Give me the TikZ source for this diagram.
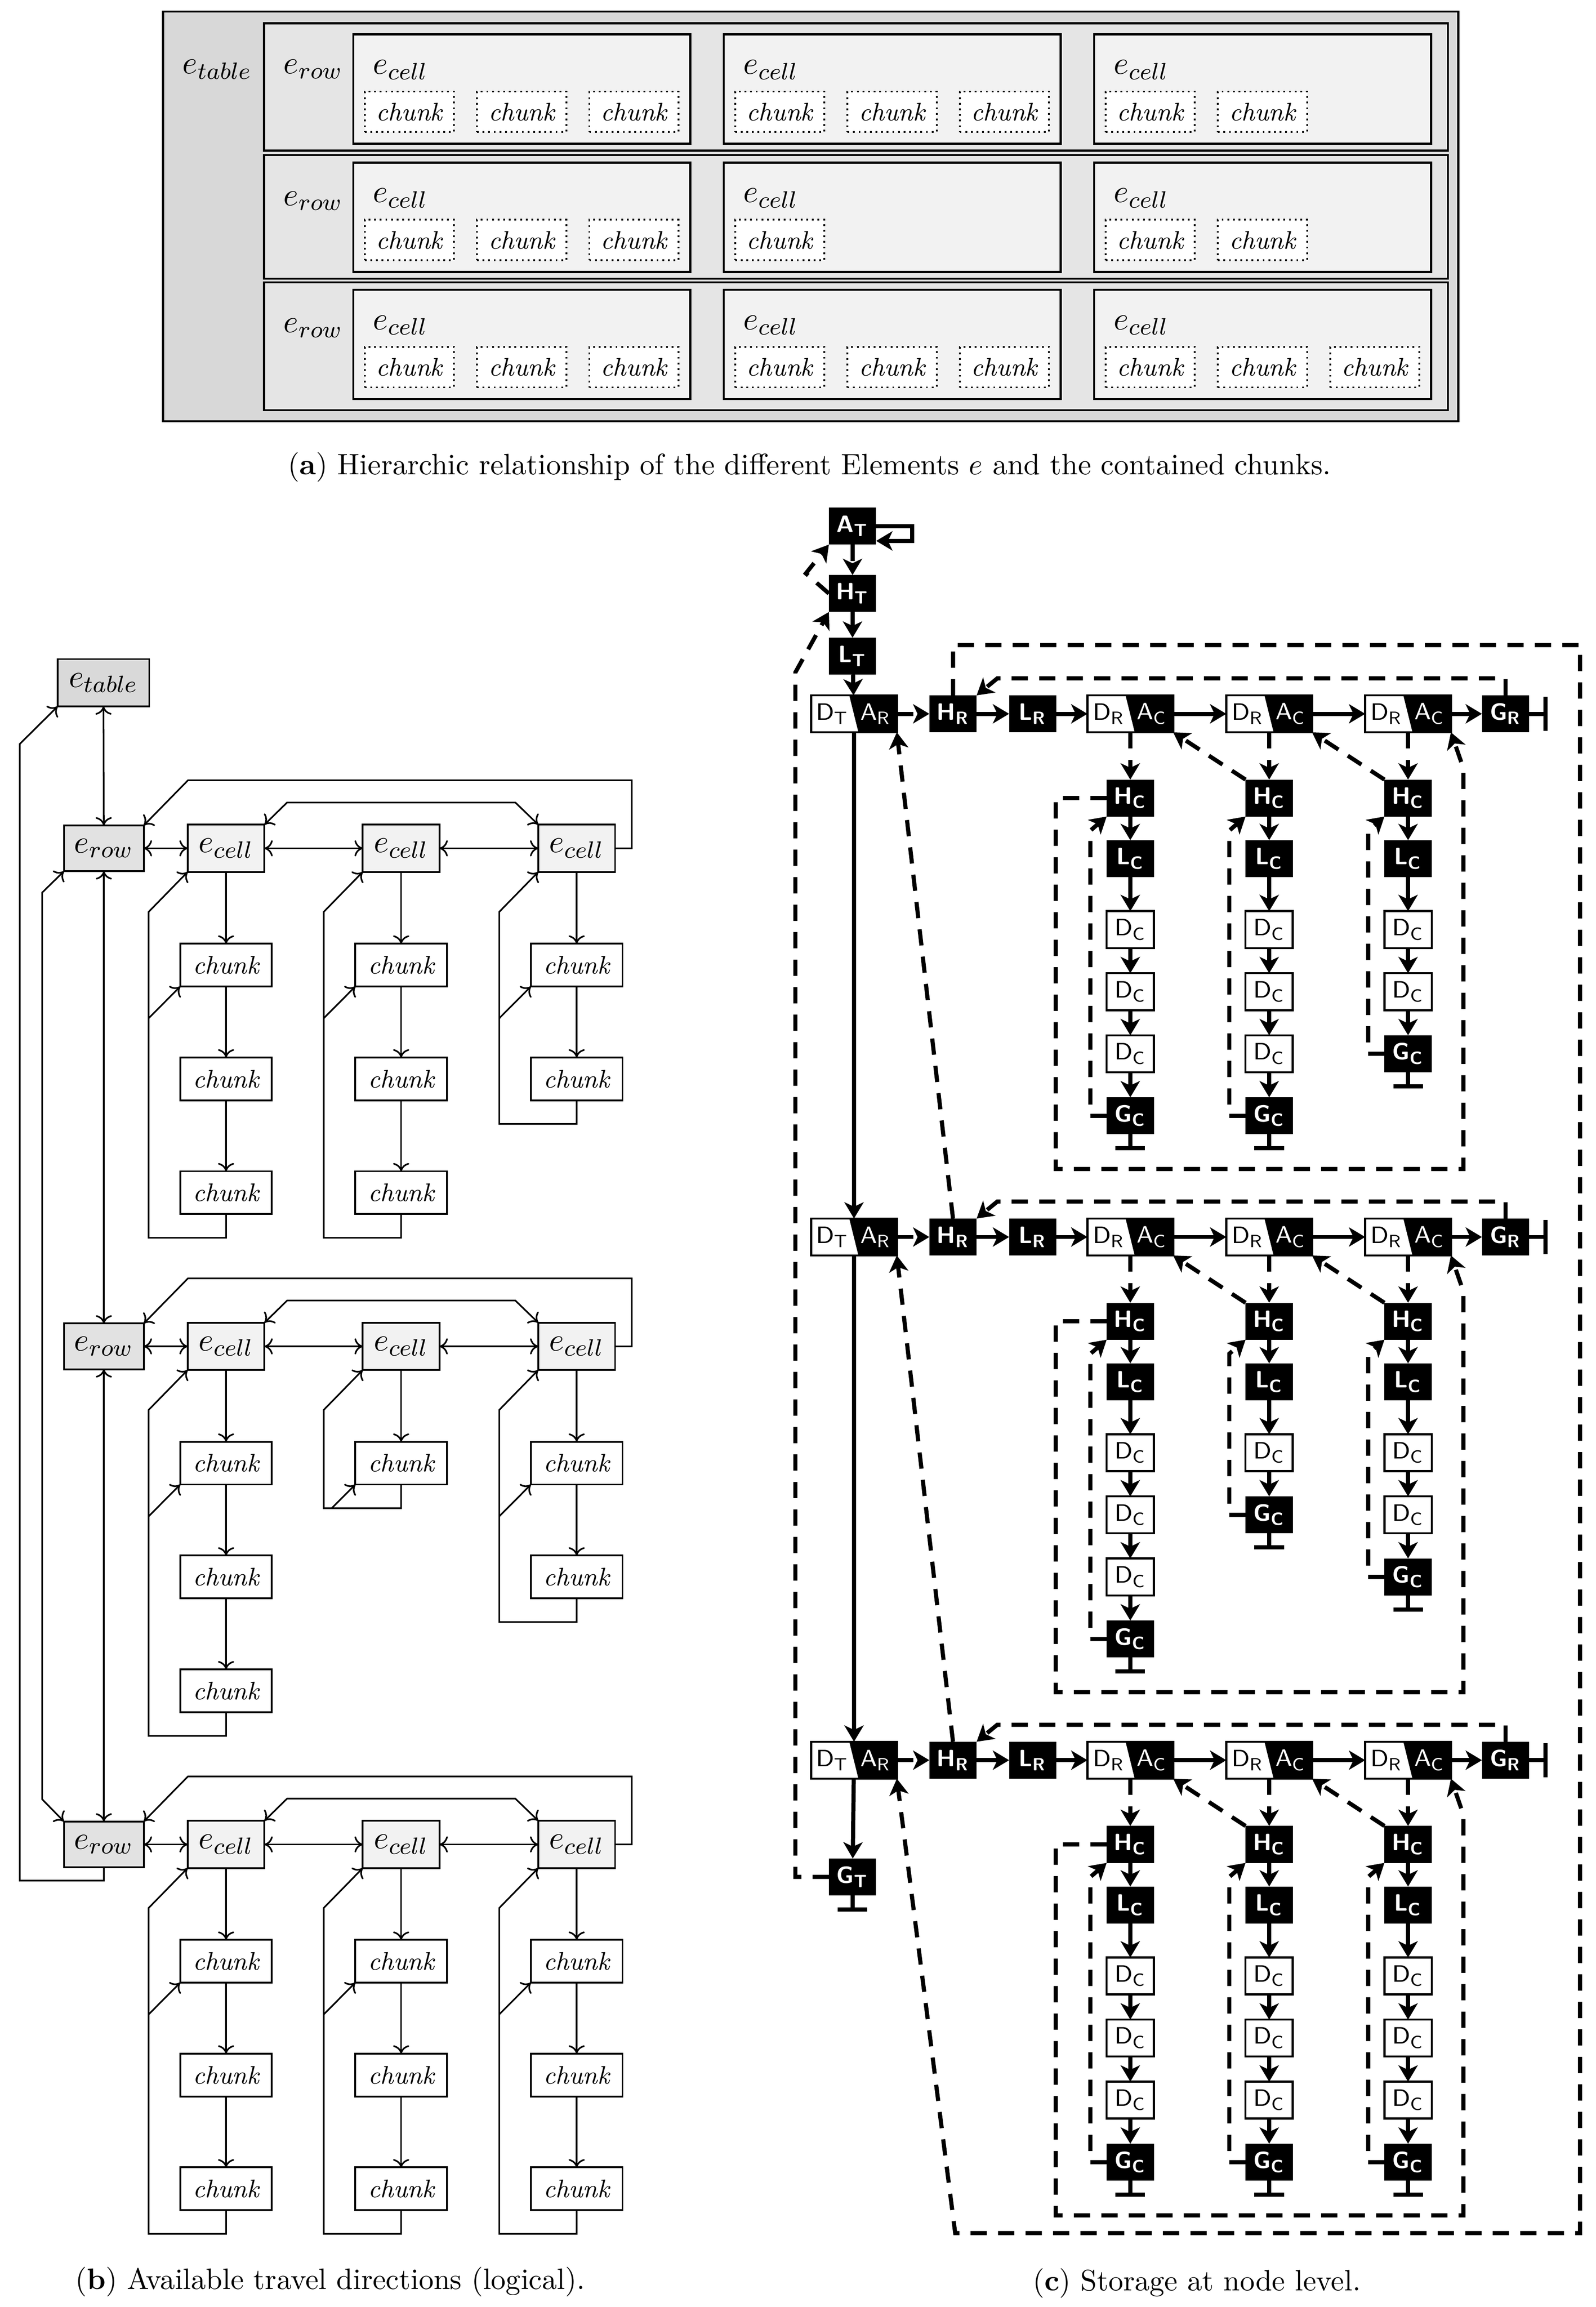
\documentclass[tikz,border=0pt]{standalone}
\usetikzlibrary{arrows.meta,calc}
\definecolor{aout}{HTML}{D8D8D8}
\definecolor{arow}{HTML}{E5E5E5}
\definecolor{acell}{HTML}{F2F2F2}
\definecolor{btab}{HTML}{D9D9D9}
\definecolor{brow}{HTML}{E2E2E2}
\newcommand\csf{\sffamily\fontsize{8}{9}\selectfont}
\newcommand\mkda[5]{%
  \node[dabox] (#1) at (#2,#3) {};
  \fill ($(#1.north)+(-1.6pt,0pt)$) -- (#1.north east) -- (#1.south east) -- ($(#1.south)+(1.5pt,0pt)$) -- cycle;
  \draw[line width=0.7pt] (#1.north west) rectangle (#1.south east);
  \node[font=\csf] (#1l) at ($(#1.center)+(-7.3pt,0pt)$) {#4};
  \node[font=\csf,text=white] (#1r) at ($(#1.center)+(7.3pt,0pt)$) {#5};}
\begin{document}
\begin{tikzpicture}[x=0.5pt,y=-0.5pt,
  every node/.style={inner sep=0pt,outer sep=0pt},
  abig/.style={font=\fontsize{10.95}{12}\selectfont},
  achunk/.style={draw,line width=0.6pt,dash pattern=on 0.6pt off 1.3pt,fill=white,minimum width=30.2pt,minimum height=13.7pt,font=\itshape\fontsize{8.6}{10}\selectfont},
  bb/.style={draw,line width=0.6pt,minimum height=15.5pt,font=\fontsize{10.95}{12}\selectfont},
  tbox/.style={bb,fill=btab,minimum width=31pt,minimum height=16pt},
  rbox/.style={bb,fill=brow,minimum width=27pt},
  cbox/.style={bb,fill=acell,minimum width=26pt,minimum height=16pt},
  chbox/.style={draw,line width=0.6pt,fill=white,minimum width=31pt,minimum height=14.5pt,font=\itshape\fontsize{8.6}{10}\selectfont},
  barr/.style={line width=0.55pt,-{Computer Modern Rightarrow[length=2.8pt,width=5.5pt]}},
  barr2/.style={line width=0.55pt,{Computer Modern Rightarrow[length=2.8pt,width=5.5pt]}-{Computer Modern Rightarrow[length=2.8pt,width=5.5pt]}},
  bn/.style={fill=black,text=white,font=\csf\bfseries,minimum width=16pt,minimum height=12.5pt},
  wn/.style={draw,line width=0.7pt,fill=white,font=\csf,minimum width=16pt,minimum height=12.5pt},
  dabox/.style={minimum width=29pt,minimum height=12.5pt},
  tline/.style={line width=1.4pt},
  tarr/.style={line width=1.4pt,-{Stealth[length=5.5pt,width=6.5pt,inset=1.5pt]}},
  tdash/.style={tarr,dash pattern=on 5.5pt off 3.8pt},
]
\useasboundingbox (0,0) rectangle (1080,1561);

% ---------------- part (a)
\draw[fill=aout,line width=0.7pt] (110.4,7.8) rectangle (987,285);
\node[abig] (atab) at (147,47) {$e_{table}$};
\foreach \ri/\yt/\yb/\ct/\na/\nb/\nc in {1/15.8/102/23.3/3/3/2,2/104.9/188.5/110/3/1/2,3/191/277.6/196/3/3/3}{
  \draw[fill=arow,line width=0.7pt] (178.7,\yt) rectangle (980,\yb);
  \node[abig] (arow\ri) at (212,{\yt+31}) {$e_{row}$};
  \foreach \jj/\nn in {0/\na,1/\nb,2/\nc}{
    \draw[fill=acell,line width=0.7pt] ({239.2+250.7*\jj},\ct) rectangle ({467.2+250.7*\jj},{\ct+74});
    \node[abig] (acell\ri-\jj) at ({271+250.7*\jj},{\ct+24}) {$e_{cell}$};
    \foreach \kk in {1,...,\nn}{
      \node[achunk] (ach\ri-\jj-\kk) at ({239.2+250.7*\jj+7.6+30.25+76*(\kk-1)},{\ct+52.4}) {chunk};
    }
  }
}
\node[font=\fontsize{10}{12}\selectfont] (capa) at (548,316) {(\textbf{a}) Hierarchic relationship of the different Elements $e$ and the contained chunks.};

% ---------------- part (b)
\node[tbox] (et) at (70,462) {$e_{table}$};
\foreach \ri/\Y/\na/\nb/\nc in {1/574/3/3/2,2/911/3/1/2,3/1248/3/3/3}{
  \node[rbox] (er\ri) at (70.3,\Y) {$e_{row}$};
  \foreach \jj/\X/\nn in {1/153/\na,2/271.5/\nb,3/390.3/\nc}{
    \node[cbox] (c\ri-\jj) at (\X,\Y) {$e_{cell}$};
    \foreach \kk in {1,...,\nn}{
      \node[chbox] (ch\ri-\jj-\kk) at (\X,{\Y+79+77*(\kk-1)}) {chunk};
      \ifnum\kk=1 \def\prev{c\ri-\jj}\else\pgfmathtruncatemacro\pk{\kk-1}\edef\prev{ch\ri-\jj-\pk}\fi
      \draw[barr] (\prev) -- (ch\ri-\jj-\kk);
    }
    \draw[barr] (ch\ri-\jj-\nn.south) -- ++(0,16) -| ({\X-52.4},{\Y+43}) -- (c\ri-\jj.south west);
    \ifnum\nn=1
      \draw[barr] ({\X-47},{\Y+109.5}) -- (ch\ri-\jj-1.south west);
    \else
      \draw[barr] ({\X-52.4},{\Y+115}) -- (ch\ri-\jj-1.south west);
    \fi
  }
  \draw[barr2] (er\ri) -- (c\ri-1);
  \draw[barr2] (c\ri-1) -- (c\ri-2);
  \draw[barr2] (c\ri-2) -- (c\ri-3);
  \draw[barr] (c\ri-3.east) -| (427.6,{\Y-46}) -- (127.2,{\Y-46}) -- (er\ri.north east);
  \draw[barr2] (c\ri-1.north east) -- (194.3,{\Y-31}) -- (348.8,{\Y-31}) -- (c\ri-3.north west);
}
\draw[barr2] (et) -- (er1);
\draw[barr2] (er1) -- (er2);
\draw[barr2] (er2) -- (er3);
\draw[barr2] (er1.south west) -- (28.5,604) -- (28.5,1217.4) -- (er3.north west);
\draw[barr] (er3.south) -- ++(0,9) -| (13.4,503.4) -- (et.south west);
\node[font=\fontsize{10}{12}\selectfont] (capb) at (223.5,1544) {(\textbf{b}) Available travel directions (logical).};

% ---------------- part (c)
\node[bn] (AT) at (577,356) {A\textsubscript{T}};
\node[bn] (HT) at (577,401.6) {H\textsubscript{T}};
\node[bn] (LT) at (577,444) {L\textsubscript{T}};
\node[bn] (GT) at (577,1270) {G\textsubscript{T}};
\coordinate (atl) at (617.3,366);
\draw[tarr] (AT.east) -| (atl) -- (AT.east |- atl);
\draw[tdash] (AT) -- (HT);
\draw[tarr] (HT) -- (LT);
\draw[tdash] (HT.west) -- (545.4,388) -- (AT.south west);
\draw[tdash] (GT.west) -- (538.3,1270) -- (538.3,455) -- (HT.south west);
\draw[tline] (GT.south) -- ++(0,9.5) coordinate (gtb);
\draw[tline] ($(gtb)+(-10,0)$) -- ($(gtb)+(10,0)$);

\foreach \ri/\Y/\na/\nb/\nc in {1/483/3/3/2,2/837/3/1/2,3/1191/3/3/3}{
  \mkda{DT\ri}{578}{\Y}{D\textsubscript{T}}{A\textsubscript{R}}
  \node[bn] (HR\ri) at (645,\Y) {H\textsubscript{R}};
  \node[bn] (LR\ri) at (699,\Y) {L\textsubscript{R}};
  \node[bn] (GR\ri) at (1019,\Y) {G\textsubscript{R}};
  \foreach \jj/\X/\nn in {1/765/\na,2/859/\nb,3/953/\nc}{
    \mkda{DA\ri-\jj}{\X}{\Y}{D\textsubscript{R}}{A\textsubscript{C}}
    \node[bn] (HC\ri-\jj) at (\X,{\Y+57}) {H\textsubscript{C}};
    \node[bn] (LC\ri-\jj) at (\X,{\Y+98}) {L\textsubscript{C}};
    \draw[tdash] (DA\ri-\jj) -- (HC\ri-\jj);
    \draw[tarr] (HC\ri-\jj) -- (LC\ri-\jj);
    \foreach \kk in {1,...,\nn}{
      \node[wn] (DC\ri-\jj-\kk) at (\X,{\Y+146+42*(\kk-1)}) {D\textsubscript{C}};
      \ifnum\kk=1 \def\prev{LC\ri-\jj}\else\pgfmathtruncatemacro\pk{\kk-1}\edef\prev{DC\ri-\jj-\pk}\fi
      \draw[tarr] (\prev) -- (DC\ri-\jj-\kk);
    }
    \node[bn] (GC\ri-\jj) at (\X,{\Y+146+42*\nn}) {G\textsubscript{C}};
    \draw[tarr] (DC\ri-\jj-\nn) -- (GC\ri-\jj);
    \draw[tline] (GC\ri-\jj.south) -- ++(0,9.5) coordinate (gcb\ri-\jj);
    \draw[tline] ($(gcb\ri-\jj)+(-10,0)$) -- ($(gcb\ri-\jj)+(10,0)$);
    \draw[tdash] (GC\ri-\jj.west) -- ++(-11,0) -- ({\X-27},{\Y+79}) -- (HC\ri-\jj.south west);
  }
  \draw[tdash] (DT\ri.east) -- (HR\ri.west);
  \draw[tarr] (HR\ri) -- (LR\ri);
  \draw[tarr] (LR\ri) -- (DA\ri-1);
  \draw[tarr] (DA\ri-1) -- (DA\ri-2);
  \draw[tarr] (DA\ri-2) -- (DA\ri-3);
  \draw[tarr] (DA\ri-3) -- (GR\ri);
  \draw[tline] (GR\ri.east) -- ++(11,0) coordinate (grb\ri);
  \draw[tline] ($(grb\ri)+(0,-11.5)$) -- ($(grb\ri)+(0,11.5)$);
  \draw[tdash] (GR\ri.north) -- (1019,{\Y-24}) -- (675,{\Y-24}) -- (HR\ri.north east);
  \draw[tdash] (HC\ri-2.north west) -- (DA\ri-1.south east);
  \draw[tdash] (HC\ri-3.north west) -- (DA\ri-2.south east);
  \draw[tdash] (HC\ri-1.west) -- (714.6,{\Y+57}) -- (714.6,{\Y+308}) -- (990.5,{\Y+308}) -- (990.5,{\Y+37}) -- (DA\ri-3.south east);
}
\draw[tarr] (LT) -- (DT1);
\draw[tarr] (DT1) -- (DT2);
\draw[tarr] (DT2) -- (DT3);
\draw[tarr] (DT3) -- (GT);
\draw[tdash] (HR1.north) -- (645,436.5) -- (1069.4,436.5) -- (1069.4,1511) -- (646.5,1511) -- (DT3.south east);
\draw[tdash] (HR2.north) -- (DT1.south east);
\draw[tdash] (HR3.north) -- (DT2.south east);
\node[font=\fontsize{10}{12}\selectfont] (capc) at (810,1545) {(\textbf{c}) Storage at node level.};
\end{tikzpicture}
\end{document}
